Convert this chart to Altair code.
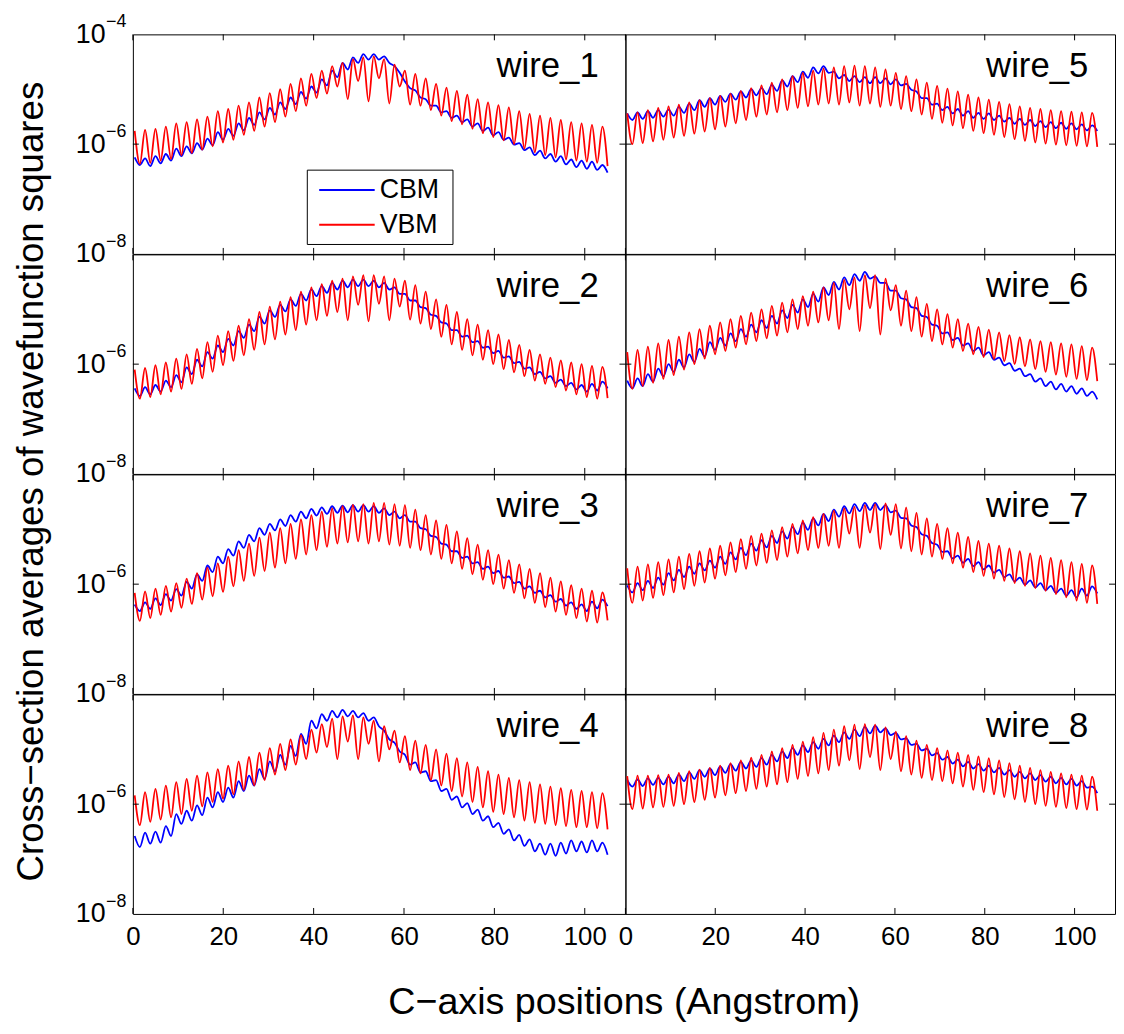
import altair as alt
import pandas as pd

# ---------------- data (log10 of the cross-section average) ----------------
N = 46
X_STEP = 2.3
X_PEAK = [round(0.4 + X_STEP * k, 2) for k in range(N)]
X_TROUGH = [round(1.55 + X_STEP * k, 2) for k in range(N)]

W1_VBM_HI = [-5.76,-5.74,-5.72,-5.68,-5.62,-5.60,-5.55,-5.50,-5.40,-5.36,
             -5.30,-5.24,-5.15,-5.07,-5.00,-4.90,-4.80,-4.72,-4.66,-4.58,
             -4.52,-4.45,-4.42,-4.40,-4.45,-4.55,-4.66,-4.72,-4.80,-4.90,
             -4.97,-5.03,-5.10,-5.18,-5.24,-5.29,-5.33,-5.40,-5.45,-5.48,
             -5.52,-5.56,-5.60,-5.62,-5.65,-5.68]
W1_VBM_LO = [-6.36,-6.34,-6.30,-6.27,-6.20,-6.16,-6.10,-6.04,-5.97,-5.92,
             -5.83,-5.76,-5.68,-5.60,-5.50,-5.40,-5.30,-5.16,-5.08,-4.95,
             -5.18,-4.85,-5.22,-4.80,-5.26,-4.95,-5.28,-5.30,-5.38,-5.48,
             -5.58,-5.64,-5.72,-5.80,-5.87,-5.93,-6.00,-6.08,-6.15,-6.20,
             -6.24,-6.28,-6.30,-6.32,-6.34,-6.40]
W1_CBM_HI = [-6.24,-6.26,-6.22,-6.18,-6.08,-6.04,-5.98,-5.90,-5.78,-5.72,
             -5.62,-5.52,-5.42,-5.34,-5.24,-5.15,-5.05,-4.95,-4.82,-4.66,
             -4.52,-4.42,-4.36,-4.36,-4.40,-4.58,-4.86,-5.02,-5.18,-5.30,
             -5.40,-5.48,-5.55,-5.62,-5.70,-5.78,-5.88,-5.98,-6.06,-6.12,
             -6.18,-6.22,-6.28,-6.30,-6.32,-6.38]
W1_CBM_LO = [-6.38,-6.40,-6.35,-6.30,-6.22,-6.17,-6.10,-6.02,-5.92,-5.85,
             -5.75,-5.65,-5.55,-5.46,-5.36,-5.27,-5.17,-5.06,-4.93,-4.78,
             -4.64,-4.52,-4.46,-4.46,-4.52,-4.70,-4.98,-5.15,-5.30,-5.42,
             -5.52,-5.60,-5.68,-5.76,-5.84,-5.92,-6.01,-6.11,-6.20,-6.26,
             -6.32,-6.37,-6.42,-6.45,-6.47,-6.52]

W2_VBM_HI = [-6.10,-6.07,-6.02,-5.97,-5.90,-5.82,-5.72,-5.60,-5.48,-5.40,
             -5.30,-5.18,-5.05,-4.95,-4.86,-4.78,-4.68,-4.60,-4.54,-4.48,
             -4.44,-4.40,-4.38,-4.38,-4.40,-4.44,-4.48,-4.56,-4.68,-4.82,
             -4.92,-5.05,-5.18,-5.28,-5.38,-5.46,-5.56,-5.65,-5.74,-5.82,
             -5.88,-5.93,-5.97,-6.00,-6.03,-6.05]
W2_VBM_LO = [-6.63,-6.60,-6.55,-6.50,-6.45,-6.36,-6.26,-6.14,-6.02,-5.94,
             -5.84,-5.74,-5.64,-5.55,-5.46,-5.38,-5.28,-5.20,-5.12,-5.05,
             -5.20,-4.92,-5.22,-4.90,-5.20,-4.95,-5.19,-5.26,-5.36,-5.50,
             -5.64,-5.74,-5.84,-5.92,-6.00,-6.09,-6.15,-6.22,-6.30,-6.36,
             -6.42,-6.48,-6.55,-6.60,-6.63,-6.62]
W2_CBM_HI = [-6.44,-6.42,-6.38,-6.30,-6.20,-6.06,-5.92,-5.78,-5.66,-5.54,
             -5.40,-5.28,-5.14,-5.02,-4.92,-4.82,-4.72,-4.64,-4.58,-4.52,
             -4.48,-4.46,-4.46,-4.48,-4.52,-4.60,-4.72,-4.84,-4.98,-5.12,
             -5.26,-5.38,-5.48,-5.58,-5.68,-5.76,-5.86,-5.96,-6.06,-6.14,
             -6.22,-6.28,-6.34,-6.38,-6.36,-6.32]
W2_CBM_LO = [-6.58,-6.55,-6.50,-6.42,-6.33,-6.18,-6.04,-5.90,-5.78,-5.66,
             -5.52,-5.40,-5.26,-5.14,-5.04,-4.94,-4.84,-4.76,-4.70,-4.64,
             -4.60,-4.58,-4.58,-4.60,-4.64,-4.72,-4.84,-4.96,-5.10,-5.24,
             -5.38,-5.50,-5.60,-5.70,-5.80,-5.88,-5.98,-6.08,-6.18,-6.26,
             -6.34,-6.40,-6.46,-6.50,-6.48,-6.44]

W3_VBM_HI = [-6.16,-6.13,-6.08,-6.03,-5.98,-5.90,-5.80,-5.70,-5.62,-5.50,
             -5.38,-5.26,-5.15,-5.06,-4.98,-4.90,-4.82,-4.74,-4.68,-4.62,
             -4.58,-4.55,-4.54,-4.52,-4.52,-4.54,-4.56,-4.64,-4.74,-4.84,
             -4.92,-5.04,-5.16,-5.28,-5.38,-5.46,-5.56,-5.64,-5.72,-5.80,
             -5.88,-5.95,-6.02,-6.08,-6.12,-6.15]
W3_VBM_LO = [-6.67,-6.62,-6.56,-6.50,-6.43,-6.36,-6.28,-6.22,-6.14,-6.04,
             -5.94,-5.85,-5.76,-5.70,-5.62,-5.54,-5.46,-5.38,-5.32,-5.26,
             -5.24,-5.22,-5.26,-5.22,-5.28,-5.30,-5.34,-5.38,-5.46,-5.54,
             -5.62,-5.72,-5.82,-5.92,-6.00,-6.08,-6.16,-6.26,-6.34,-6.42,
             -6.50,-6.56,-6.62,-6.68,-6.70,-6.66]
W3_CBM_HI = [-6.37,-6.33,-6.26,-6.18,-6.09,-5.96,-5.82,-5.66,-5.50,-5.36,
             -5.22,-5.10,-4.98,-4.90,-4.82,-4.74,-4.68,-4.63,-4.60,-4.58,
             -4.57,-4.56,-4.56,-4.58,-4.62,-4.68,-4.74,-4.86,-5.00,-5.14,
             -5.28,-5.40,-5.50,-5.60,-5.68,-5.76,-5.86,-5.96,-6.04,-6.12,
             -6.20,-6.27,-6.33,-6.37,-6.32,-6.28]
W3_CBM_LO = [-6.49,-6.45,-6.38,-6.30,-6.21,-6.08,-5.94,-5.78,-5.62,-5.48,
             -5.34,-5.22,-5.10,-5.02,-4.94,-4.86,-4.80,-4.75,-4.72,-4.70,
             -4.69,-4.68,-4.68,-4.70,-4.74,-4.80,-4.86,-4.98,-5.12,-5.26,
             -5.40,-5.52,-5.62,-5.72,-5.80,-5.88,-5.98,-6.08,-6.16,-6.24,
             -6.32,-6.39,-6.45,-6.49,-6.44,-6.40]

W4_VBM_HI = [-5.84,-5.78,-5.72,-5.66,-5.60,-5.54,-5.48,-5.42,-5.36,-5.30,
             -5.22,-5.14,-5.06,-4.98,-4.90,-4.82,-4.74,-4.64,-4.54,-4.44,
             -4.40,-4.38,-4.42,-4.48,-4.58,-4.66,-4.76,-4.84,-4.92,-5.00,
             -5.08,-5.16,-5.24,-5.32,-5.40,-5.46,-5.52,-5.56,-5.60,-5.64,
             -5.68,-5.71,-5.74,-5.76,-5.78,-5.80]
W4_VBM_LO = [-6.38,-6.32,-6.28,-6.24,-6.18,-6.12,-6.04,-5.96,-5.90,-5.82,
             -5.74,-5.66,-5.56,-5.46,-5.38,-5.28,-5.18,-5.06,-4.96,-5.18,
             -4.86,-5.18,-4.90,-5.22,-5.00,-5.24,-5.38,-5.44,-5.56,-5.66,
             -5.76,-5.86,-5.96,-6.06,-6.14,-6.18,-6.24,-6.30,-6.34,-6.36,
             -6.38,-6.40,-6.42,-6.42,-6.44,-6.46]
W4_CBM_HI = [-6.58,-6.52,-6.50,-6.40,-6.18,-6.12,-6.02,-5.88,-5.78,-5.70,
             -5.58,-5.48,-5.36,-5.22,-5.10,-4.94,-4.72,-4.48,-4.36,-4.30,
             -4.28,-4.30,-4.34,-4.42,-4.66,-4.88,-5.10,-5.24,-5.40,-5.56,
             -5.72,-5.86,-5.98,-6.10,-6.22,-6.34,-6.46,-6.56,-6.64,-6.72,
             -6.72,-6.70,-6.66,-6.68,-6.66,-6.70]
W4_CBM_LO = [-6.78,-6.72,-6.70,-6.58,-6.36,-6.30,-6.20,-6.06,-5.96,-5.88,
             -5.76,-5.66,-5.54,-5.40,-5.28,-5.12,-4.90,-4.62,-4.48,-4.42,
             -4.40,-4.42,-4.48,-4.58,-4.82,-5.04,-5.28,-5.42,-5.58,-5.76,
             -5.92,-6.06,-6.18,-6.30,-6.42,-6.54,-6.66,-6.76,-6.86,-6.92,
             -6.94,-6.90,-6.86,-6.88,-6.86,-6.92]

W5_VBM_HI = [-5.44,-5.42,-5.38,-5.34,-5.31,-5.28,-5.24,-5.20,-5.16,-5.12,
             -5.08,-5.03,-4.98,-4.93,-4.88,-4.82,-4.76,-4.70,-4.66,-4.62,
             -4.60,-4.58,-4.57,-4.58,-4.60,-4.64,-4.70,-4.76,-4.82,-4.88,
             -4.94,-4.99,-5.04,-5.10,-5.15,-5.19,-5.23,-5.27,-5.31,-5.34,
             -5.36,-5.38,-5.40,-5.41,-5.42,-5.43]
W5_VBM_LO = [-6.00,-5.98,-5.95,-5.92,-5.88,-5.85,-5.81,-5.77,-5.73,-5.68,
             -5.62,-5.56,-5.50,-5.46,-5.42,-5.38,-5.34,-5.31,-5.28,-5.26,
             -5.28,-5.24,-5.30,-5.26,-5.32,-5.30,-5.36,-5.40,-5.46,-5.54,
             -5.61,-5.66,-5.71,-5.76,-5.80,-5.83,-5.87,-5.91,-5.94,-5.97,
             -5.99,-6.01,-6.02,-6.03,-6.04,-6.05]
W5_CBM_HI = [-5.44,-5.42,-5.40,-5.38,-5.37,-5.32,-5.26,-5.20,-5.16,-5.12,
             -5.08,-5.04,-5.00,-4.98,-4.92,-4.84,-4.76,-4.68,-4.60,-4.58,
             -4.68,-4.74,-4.76,-4.78,-4.78,-4.80,-4.82,-4.90,-5.04,-5.16,
             -5.26,-5.32,-5.36,-5.40,-5.43,-5.44,-5.48,-5.52,-5.54,-5.56,
             -5.58,-5.60,-5.61,-5.62,-5.64,-5.66]
W5_CBM_LO = [-5.56,-5.54,-5.52,-5.50,-5.48,-5.43,-5.38,-5.32,-5.28,-5.23,
             -5.19,-5.15,-5.11,-5.09,-5.03,-4.95,-4.87,-4.79,-4.71,-4.70,
             -4.80,-4.85,-4.87,-4.89,-4.89,-4.91,-4.93,-5.01,-5.16,-5.28,
             -5.38,-5.44,-5.48,-5.52,-5.54,-5.56,-5.59,-5.63,-5.65,-5.67,
             -5.69,-5.71,-5.72,-5.73,-5.75,-5.76]

W6_VBM_HI = [-5.78,-5.74,-5.68,-5.62,-5.56,-5.50,-5.42,-5.36,-5.30,-5.24,
             -5.18,-5.12,-5.06,-5.00,-4.94,-4.88,-4.82,-4.76,-4.68,-4.60,
             -4.52,-4.46,-4.42,-4.38,-4.38,-4.44,-4.56,-4.66,-4.78,-4.90,
             -5.00,-5.09,-5.18,-5.26,-5.32,-5.37,-5.42,-5.47,-5.51,-5.55,
             -5.58,-5.60,-5.62,-5.64,-5.67,-5.70]
W6_VBM_LO = [-6.45,-6.40,-6.34,-6.27,-6.20,-6.10,-6.00,-5.90,-5.82,-5.76,
             -5.70,-5.64,-5.58,-5.53,-5.48,-5.42,-5.36,-5.30,-5.24,-5.20,
             -5.36,-5.00,-5.40,-4.98,-5.46,-5.02,-5.30,-5.40,-5.50,-5.58,
             -5.64,-5.70,-5.76,-5.82,-5.87,-5.91,-5.95,-6.00,-6.04,-6.09,
             -6.14,-6.19,-6.23,-6.27,-6.29,-6.31]
W6_CBM_HI = [-6.30,-6.26,-6.18,-6.08,-6.00,-5.92,-5.82,-5.72,-5.60,-5.52,
             -5.44,-5.36,-5.28,-5.20,-5.12,-5.02,-4.92,-4.82,-4.72,-4.60,
             -4.50,-4.42,-4.36,-4.32,-4.40,-4.52,-4.66,-4.82,-4.98,-5.14,
             -5.30,-5.42,-5.52,-5.62,-5.70,-5.78,-5.88,-5.98,-6.08,-6.18,
             -6.26,-6.32,-6.36,-6.40,-6.44,-6.50]
W6_CBM_LO = [-6.44,-6.40,-6.32,-6.22,-6.14,-6.06,-5.96,-5.86,-5.74,-5.66,
             -5.58,-5.50,-5.42,-5.34,-5.26,-5.16,-5.06,-4.96,-4.86,-4.74,
             -4.64,-4.56,-4.48,-4.44,-4.52,-4.66,-4.80,-4.96,-5.12,-5.28,
             -5.44,-5.56,-5.66,-5.76,-5.84,-5.92,-6.02,-6.12,-6.22,-6.32,
             -6.40,-6.46,-6.50,-6.54,-6.58,-6.64]

W7_VBM_HI = [-5.71,-5.68,-5.64,-5.60,-5.55,-5.50,-5.45,-5.40,-5.35,-5.30,
             -5.24,-5.18,-5.12,-5.08,-5.02,-4.96,-4.90,-4.84,-4.78,-4.72,
             -4.66,-4.62,-4.59,-4.56,-4.54,-4.53,-4.54,-4.60,-4.70,-4.80,
             -4.90,-4.98,-5.06,-5.14,-5.21,-5.26,-5.30,-5.35,-5.40,-5.44,
             -5.48,-5.52,-5.56,-5.60,-5.63,-5.66]
W7_VBM_LO = [-6.34,-6.30,-6.25,-6.20,-6.15,-6.09,-6.03,-5.97,-5.90,-5.84,
             -5.78,-5.72,-5.66,-5.61,-5.56,-5.50,-5.44,-5.38,-5.34,-5.30,
             -5.34,-5.08,-5.34,-5.06,-5.36,-5.10,-5.35,-5.40,-5.46,-5.50,
             -5.54,-5.62,-5.70,-5.78,-5.85,-5.90,-5.94,-5.98,-6.03,-6.07,
             -6.12,-6.18,-6.24,-6.30,-6.34,-6.36]
W7_CBM_HI = [-6.02,-5.98,-5.94,-5.88,-5.80,-5.74,-5.68,-5.62,-5.57,-5.50,
             -5.42,-5.34,-5.26,-5.20,-5.12,-5.04,-4.96,-4.88,-4.80,-4.72,
             -4.64,-4.58,-4.54,-4.52,-4.52,-4.56,-4.66,-4.80,-4.96,-5.12,
             -5.28,-5.40,-5.48,-5.54,-5.60,-5.66,-5.74,-5.82,-5.88,-5.93,
             -5.98,-6.03,-6.08,-6.11,-6.08,-6.04]
W7_CBM_LO = [-6.15,-6.11,-6.07,-6.01,-5.93,-5.87,-5.81,-5.75,-5.70,-5.63,
             -5.55,-5.47,-5.39,-5.33,-5.25,-5.17,-5.09,-5.01,-4.93,-4.85,
             -4.77,-4.71,-4.67,-4.65,-4.65,-4.69,-4.79,-4.93,-5.09,-5.25,
             -5.41,-5.53,-5.61,-5.67,-5.73,-5.79,-5.87,-5.95,-6.01,-6.06,
             -6.11,-6.16,-6.21,-6.24,-6.21,-6.17]

W8_VBM_HI = [-5.49,-5.48,-5.48,-5.47,-5.46,-5.43,-5.40,-5.37,-5.34,-5.30,
             -5.25,-5.20,-5.15,-5.10,-5.04,-4.98,-4.92,-4.86,-4.78,-4.70,
             -4.64,-4.58,-4.55,-4.54,-4.55,-4.60,-4.68,-4.76,-4.84,-4.92,
             -4.98,-5.02,-5.06,-5.10,-5.13,-5.16,-5.20,-5.25,-5.30,-5.34,
             -5.38,-5.41,-5.44,-5.46,-5.48,-5.50]
W8_VBM_LO = [-6.09,-6.08,-6.06,-6.05,-6.03,-6.00,-5.96,-5.92,-5.88,-5.84,
             -5.80,-5.76,-5.72,-5.68,-5.64,-5.60,-5.54,-5.49,-5.44,-5.38,
             -5.30,-5.20,-5.36,-5.14,-5.38,-5.18,-5.40,-5.46,-5.52,-5.56,
             -5.58,-5.62,-5.68,-5.74,-5.78,-5.82,-5.87,-5.91,-5.96,-6.00,
             -6.03,-6.05,-6.07,-6.09,-6.10,-6.12]
W8_CBM_HI = [-5.56,-5.55,-5.53,-5.52,-5.50,-5.46,-5.42,-5.38,-5.35,-5.31,
             -5.27,-5.23,-5.20,-5.16,-5.10,-5.04,-4.98,-4.93,-4.87,-4.81,
             -4.75,-4.69,-4.64,-4.59,-4.57,-4.62,-4.70,-4.80,-4.90,-4.99,
             -5.07,-5.14,-5.19,-5.23,-5.27,-5.30,-5.34,-5.38,-5.41,-5.44,
             -5.47,-5.50,-5.52,-5.54,-5.58,-5.68]
W8_CBM_LO = [-5.68,-5.67,-5.65,-5.64,-5.62,-5.58,-5.54,-5.50,-5.47,-5.43,
             -5.39,-5.35,-5.32,-5.28,-5.22,-5.16,-5.10,-5.05,-4.99,-4.93,
             -4.87,-4.81,-4.76,-4.71,-4.69,-4.74,-4.82,-4.92,-5.02,-5.11,
             -5.19,-5.26,-5.31,-5.35,-5.39,-5.42,-5.46,-5.50,-5.53,-5.56,
             -5.59,-5.62,-5.64,-5.66,-5.70,-5.80]

WIRES = {
    1: (W1_CBM_HI, W1_CBM_LO, W1_VBM_HI, W1_VBM_LO),
    2: (W2_CBM_HI, W2_CBM_LO, W2_VBM_HI, W2_VBM_LO),
    3: (W3_CBM_HI, W3_CBM_LO, W3_VBM_HI, W3_VBM_LO),
    4: (W4_CBM_HI, W4_CBM_LO, W4_VBM_HI, W4_VBM_LO),
    5: (W5_CBM_HI, W5_CBM_LO, W5_VBM_HI, W5_VBM_LO),
    6: (W6_CBM_HI, W6_CBM_LO, W6_VBM_HI, W6_VBM_LO),
    7: (W7_CBM_HI, W7_CBM_LO, W7_VBM_HI, W7_VBM_LO),
    8: (W8_CBM_HI, W8_CBM_LO, W8_VBM_HI, W8_VBM_LO),
}
for key, arrs in WIRES.items():
    for a in arrs:
        assert len(a) == N, (key, len(a))

X_TICKS = [0, 20, 40, 60, 80, 100]
Y_TICKS_MID = [1e-6]
Y_LABEL_VALUES_TOP = [1e-8, 1e-6, 1e-4]
Y_LABEL_EXP_TOP = ["\u22128", "\u22126", "\u22124"]
Y_LABEL_VALUES = [1e-8, 1e-6]
Y_LABEL_EXP = ["\u22128", "\u22126"]
BANDS = ["CBM", "VBM"]
COLORS = ["#0000ff", "#ff0000"]
X_TITLE = "C\u2212axis positions (Angstrom)"
Y_TITLE = "Cross\u2212section averages of wavefunction squares"

FONT = "Liberation Sans"
PH = 221.5
PW = [497, 494]
LW = 1.8


def series(hi, lo):
    xs, ys = [], []
    for k in range(N):
        xs += [X_PEAK[k], X_TROUGH[k]]
        ys += [10 ** hi[k], 10 ** lo[k]]
    return pd.DataFrame({"x": xs, "y": ys})


def panel(n, col, row):
    W = PW[col]
    cbm_hi, cbm_lo, vbm_hi, vbm_lo = WIRES[n]
    xscale = alt.Scale(domain=[0, 109], nice=False, zero=False)
    yscale = alt.Scale(type="log", domain=[1e-8, 1e-4], nice=False)
    vals = Y_LABEL_VALUES_TOP if row == 0 else Y_LABEL_VALUES
    exps = Y_LABEL_EXP_TOP if row == 0 else Y_LABEL_EXP
    if row == 3:
        xaxis = alt.Axis(values=X_TICKS, title=None, ticks=False, domain=False,
                         grid=False, labelFontSize=26, labelFont=FONT,
                         labelColor="black", labelPadding=10, labelFlush=False)
    else:
        xaxis = None
    if col == 0:
        yaxis = alt.Axis(values=vals, title=None, ticks=False, domain=False,
                         grid=False, labelFontSize=27, labelFont=FONT,
                         labelColor="black", labelPadding=28, labelFlush=False,
                         labelOverlap=False, labelExpr="'10'")
    else:
        yaxis = None

    X = lambda f: alt.X(f, scale=xscale, axis=xaxis)
    Y = lambda f: alt.Y(f, scale=yscale, axis=yaxis)

    layers = []
    for (hi, lo), color in zip([(cbm_hi, cbm_lo), (vbm_hi, vbm_lo)], COLORS):
        layers.append(
            alt.Chart(series(hi, lo)).mark_line(
                color=color, strokeWidth=LW, interpolate="monotone", clip=True
            ).encode(x=X("x:Q"), y=Y("y:Q"))
        )

    # inward ticks (top & bottom x, left & right y)
    xt = pd.DataFrame({"x": X_TICKS})
    layers.append(alt.Chart(xt).mark_rule(color="black", strokeWidth=1).encode(
        x=X("x:Q"), y=alt.value(0), y2=alt.value(6)))
    layers.append(alt.Chart(xt).mark_rule(color="black", strokeWidth=1).encode(
        x=X("x:Q"), y=alt.value(PH - 6), y2=alt.value(PH)))
    yt = pd.DataFrame({"y": Y_TICKS_MID})
    layers.append(alt.Chart(yt).mark_rule(color="black", strokeWidth=1).encode(
        y=Y("y:Q"), x=alt.value(0), x2=alt.value(6)))
    layers.append(alt.Chart(yt).mark_rule(color="black", strokeWidth=1).encode(
        y=Y("y:Q"), x=alt.value(W - 6), x2=alt.value(W)))

    # superscript exponents of the y tick labels
    if col == 0:
        sup = pd.DataFrame({"y": vals, "t": exps})
        layers.append(alt.Chart(sup).mark_text(
            align="left", baseline="middle", dy=-12, fontSize=18, font=FONT, color="black"
        ).encode(x=alt.value(-27), y=Y("y:Q"), text="t:N"))

    one = pd.DataFrame({"a": [0]})
    layers.append(alt.Chart(one).mark_text(
        text=f"wire_{n}", align="right", baseline="alphabetic",
        fontSize=35, font=FONT, color="black"
    ).encode(x=alt.value(W - 27), y=alt.value(43)))

    if n == 1:
        layers.append(alt.Chart(one).mark_rect(
            fill="white", stroke="black", strokeWidth=1
        ).encode(x=alt.value(176), x2=alt.value(323), y=alt.value(137), y2=alt.value(212)))
        for i, (b, c) in enumerate(zip(BANDS, COLORS)):
            yy = 157 + 35 * i
            layers.append(alt.Chart(one).mark_rule(color=c, strokeWidth=2).encode(
                x=alt.value(188), x2=alt.value(244), y=alt.value(yy)))
            layers.append(alt.Chart(one).mark_text(
                text=b, align="left", baseline="middle", fontSize=27, font=FONT, color="black"
            ).encode(x=alt.value(249), y=alt.value(yy)))

    return alt.layer(*layers).properties(width=W, height=PH)


panels = []
for r in range(4):
    panels.append(panel(r + 1, 0, r))
    panels.append(panel(r + 5, 1, r))

grid = alt.concat(*panels, columns=2, spacing=0, bounds="flush").properties(
    title=alt.TitleParams(Y_TITLE, orient="left", anchor="middle", fontSize=37,
                          font=FONT, fontWeight="normal", color="black", offset=24)
)

chart = alt.vconcat(grid).properties(
    title=alt.TitleParams(X_TITLE, orient="bottom", anchor="middle", fontSize=38,
                          font=FONT, fontWeight="normal", color="black", offset=34, dx=60),
    padding={"left": 5, "top": 0, "right": 0, "bottom": 5},
    background="white",
).configure_view(stroke="black", strokeWidth=1)

chart.save("out.html", embed_options={"renderer": "svg", "actions": False})
